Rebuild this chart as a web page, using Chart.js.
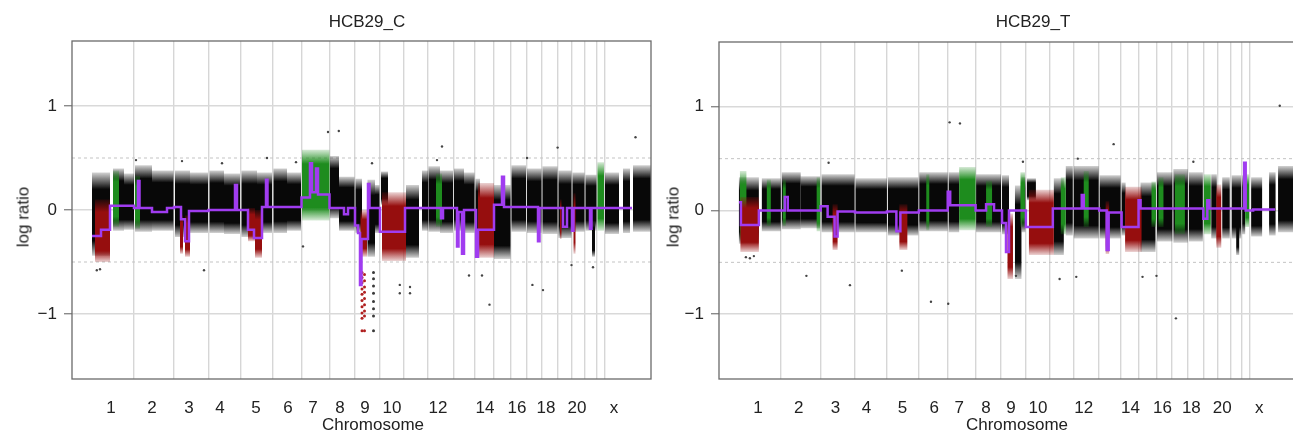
<!DOCTYPE html>
<html>
<head>
<meta charset="utf-8">
<script src="https://cdn.jsdelivr.net/npm/chart.js@4.4.1/dist/chart.umd.min.js"></script>
<style>
  body { margin: 0; width: 1293px; height: 432px; overflow: hidden; background: #fff;
         font-family: "Liberation Sans", Arial, sans-serif; color: #222; position: relative; }
  .panel { position: absolute; top: 0; }
  .txt { position: absolute; white-space: nowrap; font-size: 17px; line-height: 1; }
  .title { transform: translateX(-50%); }
  .ylab { transform: translate(-50%, -50%) rotate(-90deg); }
</style>
</head>
<body>
<div class="panel" style="left:0"><canvas id="chartC" width="660" height="440"></canvas></div>
<div class="panel" style="left:660px"><canvas id="chartT" width="640" height="440"></canvas></div>

<div class="txt title" style="left:367px;top:13px">HCB29_C</div>
<div class="txt title" style="left:1033px;top:13px">HCB29_T</div>
<div class="txt title" style="left:373px;top:416px">Chromosome</div>
<div class="txt title" style="left:1017px;top:416px">Chromosome</div>
<div class="txt ylab" style="left:23px;top:217px">log ratio</div>
<div class="txt ylab" style="left:673px;top:217px">log ratio</div>

<script>
// genome index (probe order), same layout for both samples
const xMax = 579;
const chromBounds = [62, 102, 136.5, 168.5, 200.5, 229.5, 257.5, 283, 308, 331.5, 356, 381.5,
                     403, 421.5, 439, 454.5, 470, 486, 500, 513, 525, 532.5];
const chromLabels = ['1', '2', '3', '4', '5', '6', '7', '8', '9', '10', '12', '14', '16', '18', '20', 'x'];
const labelPos = [39, 80, 117, 148, 184, 216, 241, 268, 293, 320, 366, 413, 445, 474, 505, 542];
const yTicks = [-1, 0, 1];
const thresholds = [-0.5, 0.5];

// ---- HCB29_C ----  bands: [start, end, top, bottom] of the probe cloud
const cBlack = [
  [20, 38, 0.36, -0.44], [41, 52, 0.40, -0.20], [52, 62, 0.35, -0.19], [63, 80, 0.43, -0.21],
  [80, 101.5, 0.38, -0.20], [103, 118, 0.38, -0.26], [118, 136, 0.36, -0.22],
  [137.5, 152, 0.38, -0.22], [152, 168, 0.35, -0.23], [169.5, 185, 0.38, -0.26], [185, 200, 0.36, -0.22],
  [201.5, 215, 0.40, -0.22], [215, 229, 0.36, -0.20],
  [258, 267, 0.52, -0.08], [267, 282.5, 0.32, -0.20], [283.5, 290, 0.30, -0.22],
  [295.5, 303, 0.29, -0.45], [303, 307.5, 0.24, -0.22], [309, 316, 0.37, 0.05],
  [334, 347, 0.24, -0.46], [350, 356, 0.38, -0.20], [356.5, 368, 0.42, -0.21], [368, 381, 0.38, -0.22],
  [382, 392, 0.40, -0.20], [392, 402.5, 0.36, -0.22], [403.5, 408, 0.30, -0.29], [422, 438.5, 0.24, -0.47],
  [439.5, 454, 0.43, -0.21], [455, 469.5, 0.40, -0.22], [470.5, 485.5, 0.42, -0.23],
  [486.5, 499.5, 0.38, -0.27], [500.5, 512.5, 0.36, -0.21], [513.5, 524.5, 0.34, -0.20],
  [520, 523, -0.10, -0.45], [533, 547, 0.36, -0.23], [551, 558, 0.40, -0.22], [561, 579, 0.43, -0.21]
];
const cRed = [
  [23, 38, 0.10, -0.50], [108, 111, -0.05, -0.42], [113, 118, -0.05, -0.45], [176, 183, 0.02, -0.30],
  [183, 190, 0.00, -0.46], [288.5, 295, 0.00, -0.45], [310, 334, 0.17, -0.49], [406, 422, 0.26, -0.46],
  [488, 489.5, 0.10, -0.28], [501.5, 503.5, 0.16, -0.42]
];
const cGreen = [
  [41, 47, 0.38, -0.16], [63, 68, 0.33, -0.18], [230, 257.5, 0.58, -0.10], [364, 370, 0.35, -0.16],
  [525.5, 532, 0.46, -0.20]
];
// segment means: [start, end, mean]
const cSeg = [
  [20, 29, -0.25], [29, 38, -0.19], [38, 62, 0.04], [62, 66, 0.02], [66, 67.5, 0.28], [67.5, 80, 0.02],
  [80, 95, -0.02], [95, 102, 0.02], [102, 109, 0.03], [109, 113, -0.09], [113, 117, -0.30],
  [117, 136.5, -0.01], [136.5, 163, 0.00], [163, 165, 0.24], [165, 176, 0.00], [176, 182, -0.19],
  [182, 190, -0.27], [190, 194, 0.03], [194, 195.5, 0.29], [195.5, 229.5, 0.03], [229.5, 238, 0.12],
  [238, 240, 0.45], [240, 244, 0.17], [244, 246, 0.40], [246, 257.5, 0.15], [257.5, 272, 0.02],
  [272, 276, -0.04], [276, 283, 0.02], [283, 286, -0.15], [286, 288, -0.22], [288, 289.5, -0.72],
  [289.5, 296, -0.28], [296, 297.5, 0.25], [297.5, 308, 0.02], [308, 333, -0.21], [333, 356, 0.02],
  [356, 369, 0.02], [369, 371, -0.08], [371, 385, 0.02], [385, 386.5, -0.35], [386.5, 390, -0.02],
  [390, 392, -0.42], [392, 404, 0.00], [404, 406, -0.45], [406, 422, -0.19], [422, 430, 0.05],
  [430, 432, 0.32], [432, 466, 0.03], [466, 467.5, -0.30], [467.5, 491, 0.02], [491, 495, -0.16],
  [495, 500, 0.02], [500, 501.5, -0.20], [501.5, 518, 0.02], [518, 519.5, -0.18], [519.5, 560, 0.02]
];
const cOutliers = [
  [24.8, -0.58], [28, -0.57], [132, -0.58], [231, -0.35], [266.8, 0.76], [256, 0.75], [370, 0.61],
  [417.5, -0.91], [327.8, -0.72], [327.8, -0.80], [338, -0.74], [338, -0.80], [460.4, -0.72],
  [471, -0.77], [397, -0.63], [410, -0.63], [485.6, 0.60], [499.5, -0.53], [521, -0.55], [563.5, 0.70],
  [64, 0.48], [110, 0.47], [150, 0.45], [195, 0.5], [224, 0.46], [300, 0.45], [365, 0.48], [455, 0.5]
];
const cDots = [
  [290, -0.60], [290, -0.65], [290, -0.70], [290, -0.76], [290, -0.81], [290, -0.87], [290, -0.93],
  [290, -0.99], [290, -1.04], [290, -1.16], [292.5, -0.62], [292.5, -0.68], [292.5, -0.74],
  [292.5, -0.79], [292.5, -0.85], [292.5, -0.91], [292.5, -0.97], [292.5, -1.02], [292.5, -1.16]
];
const cDotsDark = [
  [301.5, -0.60], [301.5, -0.66], [301.5, -0.73], [301.5, -0.80], [301.5, -0.88], [301.5, -0.95],
  [301.5, -1.02], [301.5, -1.16]
];

// ---- HCB29_T ----
const tBlack = [
  [20, 40, 0.32, -0.32], [43, 62, 0.31, -0.20], [63, 82, 0.37, -0.18], [82, 101.5, 0.33, -0.17],
  [103, 136, 0.35, -0.21], [137, 168.5, 0.31, -0.21], [169.5, 200, 0.32, -0.24], [201, 229.5, 0.37, -0.20],
  [230.5, 241, 0.37, -0.21], [258, 283, 0.35, -0.21], [284, 291, 0.34, -0.23], [297, 303.5, 0.24, -0.66],
  [303.5, 307.5, 0.32, -0.21], [309, 318, 0.31, 0.10], [336, 346, 0.31, -0.43], [348, 355, 0.43, -0.24],
  [356, 381, 0.43, -0.27], [382, 403, 0.34, -0.27], [404, 408, 0.27, -0.24], [423, 438, 0.27, -0.40],
  [439.5, 455, 0.37, -0.30], [456, 470.5, 0.40, -0.31], [471.5, 485.5, 0.37, -0.30], [494, 499.5, 0.35, -0.27],
  [505, 512.5, 0.32, -0.27], [514.5, 524, 0.34, -0.27], [519, 522, 0.00, -0.43], [525, 528, 0.34, -0.23],
  [534, 545, 0.32, -0.25], [552, 558.5, 0.37, -0.24], [561, 579, 0.43, -0.21]
];
const tRed = [
  [21.5, 40, 0.13, -0.40], [114, 119, 0.06, -0.38], [181, 189, 0.06, -0.38], [289.5, 295, -0.03, -0.66],
  [311, 336, 0.20, -0.43], [388, 391.5, 0.09, -0.42], [407.5, 424, 0.23, -0.40], [499, 504, 0.25, -0.36]
];
const tGreen = [
  [21, 27.5, 0.38, -0.29], [48, 52, 0.30, -0.15], [64, 67, 0.30, -0.15], [98, 101.5, 0.32, -0.20],
  [208, 211, 0.35, -0.19], [241, 257.5, 0.42, -0.19], [268, 274, 0.29, -0.16], [302.5, 307, 0.37, -0.16],
  [343, 348, 0.32, -0.23], [366, 371, 0.38, -0.16], [434, 438.5, 0.28, -0.16], [441, 446, 0.32, -0.16],
  [457.5, 467.5, 0.35, -0.23], [486.5, 493.5, 0.35, -0.23], [528, 532, 0.35, -0.16]
];
const tSeg = [
  [20, 22, 0.08], [22, 40, -0.14], [40, 62, 0.00], [62, 66, 0.00], [66, 69, 0.13], [69, 102, 0.00],
  [102, 109, 0.04], [109, 116, -0.06], [116, 119, -0.25], [119, 136.5, -0.01], [136.5, 168.5, -0.02],
  [168.5, 178, -0.01], [178, 182, -0.20], [182, 200.5, -0.02], [200.5, 229.5, 0.00], [229.5, 232, 0.18],
  [232, 257.5, 0.05], [257.5, 268, 0.00], [268, 276, 0.06], [276, 284, 0.00], [284, 288, -0.12],
  [288, 291, -0.40], [291, 308, 0.00], [308, 335, -0.16], [335, 364, 0.02], [364, 366, 0.15],
  [366, 381.5, 0.02], [381.5, 389, 0.00], [389, 391, -0.38], [391, 404, -0.02], [404, 421, -0.16],
  [421, 423, 0.10], [423, 486, 0.02], [486, 490, -0.08], [490, 492, 0.10], [492, 527, 0.02],
  [527, 528.5, 0.46], [528.5, 536, 0.00], [536, 558, 0.01]
];
const tOutliers = [
  [231.4, 0.85], [241.8, 0.84], [396, 0.64], [212.7, -0.88], [230, -0.90], [458.5, -1.04], [131.4, -0.72],
  [87.7, -0.63], [183.5, -0.58], [562.7, 1.01], [358.5, -0.64], [341.8, -0.66], [425, -0.64], [439, -0.63],
  [27, -0.45], [31, -0.46], [35, -0.44], [298, -0.63], [110, 0.46], [305, 0.47], [360, 0.5], [476, 0.47]
];

// ---- helpers ----
// vertical gradient: dense core, thinning towards the top and bottom of each cloud
function cloudFill(rgb) {
  return ctx => {
    const chart = ctx.chart;
    if (!chart.chartArea) return 'rgb(' + rgb + ')';
    const y = chart.scales.y;
    const d = ctx.dataset.data;
    const top = y.getPixelForValue(d[0].y);
    const bottom = y.getPixelForValue(d[2].y);
    if (!(bottom > top)) return 'rgb(' + rgb + ')';
    const g = chart.ctx.createLinearGradient(0, top, 0, bottom);
    g.addColorStop(0, 'rgba(' + rgb + ',0.18)');
    g.addColorStop(0.2, 'rgba(' + rgb + ',1)');
    g.addColorStop(0.82, 'rgba(' + rgb + ',1)');
    g.addColorStop(1, 'rgba(' + rgb + ',0.18)');
    return g;
  };
}

function bandDatasets(bands, rgb, order) {
  return bands.map(b => ({
    data: [{x: b[0], y: b[2]}, {x: b[1], y: b[2]}, {x: b[1], y: b[3]}, {x: b[0], y: b[3]}, {x: b[0], y: b[2]}],
    backgroundColor: cloudFill(rgb),
    borderWidth: 0,
    fill: 'shape',
    pointRadius: 0,
    order: order
  }));
}

function segDataset(segs) {
  return {
    data: segs.flatMap(s => [{x: s[0], y: s[2]}, {x: s[1], y: s[2]}]),
    borderColor: '#a03cf0',
    borderWidth: 2.5,
    pointRadius: 0,
    fill: false,
    order: 0
  };
}

function dotDataset(pts, color, r) {
  return {
    data: pts.map(p => ({x: p[0], y: p[1]})),
    showLine: false,
    pointRadius: r,
    pointBorderWidth: 0,
    pointBackgroundColor: color,
    order: 1
  };
}

function thresholdDatasets() {
  return thresholds.map(t => ({
    data: [{x: 0, y: t}, {x: xMax, y: t}],
    borderColor: '#c4c4c4',
    borderWidth: 1,
    borderDash: [3, 3],
    pointRadius: 0,
    fill: false,
    order: 5
  }));
}

const framePlugin = {
  id: 'frame',
  afterDraw(chart) {
    const {ctx, chartArea: a} = chart;
    ctx.save();
    ctx.strokeStyle = '#6a6a6a';
    ctx.lineWidth = 1.3;
    ctx.strokeRect(a.left, a.top, a.right - a.left, a.bottom - a.top);
    ctx.restore();
  }
};

function makeChart(id, datasets, axisWidth, pad) {
  return new Chart(document.getElementById(id), {
    type: 'line',
    data: {datasets: datasets},
    options: {
      responsive: false,
      animation: false,
      events: [],
      layout: {padding: pad},
      plugins: {legend: {display: false}, tooltip: {enabled: false}},
      elements: {line: {tension: 0}},
      scales: {
        x: {
          type: 'linear', min: 0, max: xMax,
          afterBuildTicks: s => { s.ticks = labelPos.map(v => ({value: v})); },
          afterFit: s => { s.height = 61; },
          grid: {display: false, drawTicks: false},
          border: {display: false},
          ticks: {
            autoSkip: false, maxRotation: 0, padding: 19, color: '#222',
            font: {family: 'Liberation Sans', size: 17},
            callback: (v, i) => chromLabels[i]
          }
        },
        xb: {
          type: 'linear', min: 0, max: xMax, position: 'bottom',
          afterBuildTicks: s => { s.ticks = chromBounds.map(v => ({value: v})); },
          afterFit: s => { s.height = 0; },
          grid: {color: '#d6d6d6', lineWidth: 1.4, drawTicks: false},
          border: {display: false},
          ticks: {display: false}
        },
        y: {
          type: 'linear', min: -1.625, max: 1.625,
          afterBuildTicks: s => { s.ticks = yTicks.map(v => ({value: v})); },
          afterFit: s => { s.width = axisWidth; },
          grid: {color: '#d9d9d9', lineWidth: 1.4, tickColor: '#8a8a8a', tickLength: 8},
          border: {display: false},
          ticks: {
            padding: 7, color: '#222',
            font: {family: 'Liberation Sans', size: 17},
            callback: v => v < 0 ? '\u2212' + Math.abs(v) : String(v)
          }
        }
      }
    },
    plugins: [framePlugin]
  });
}

const black = '8,8,8';
const red = '150,14,14';
const green = '30,140,30';

const cSets = [].concat(
  [segDataset(cSeg)],
  [dotDataset(cOutliers, '#444', 1.2), dotDataset(cDots, '#b02020', 1.5), dotDataset(cDotsDark, '#3a3a3a', 1.5)],
  bandDatasets(cRed, red, 2),
  bandDatasets(cGreen, green, 3),
  bandDatasets(cBlack, black, 4),
  thresholdDatasets()
);
const tSets = [].concat(
  [segDataset(tSeg)],
  [dotDataset(tOutliers, '#444', 1.2)],
  bandDatasets(tRed, red, 2),
  bandDatasets(tGreen, green, 3),
  bandDatasets(tBlack, black, 4),
  thresholdDatasets()
);

makeChart('chartC', cSets, 72, {top: 41, right: 9, left: 0, bottom: 0});
makeChart('chartT', tSets, 59, {top: 42, right: 2, left: 0, bottom: 0});
</script>
</body>
</html>
